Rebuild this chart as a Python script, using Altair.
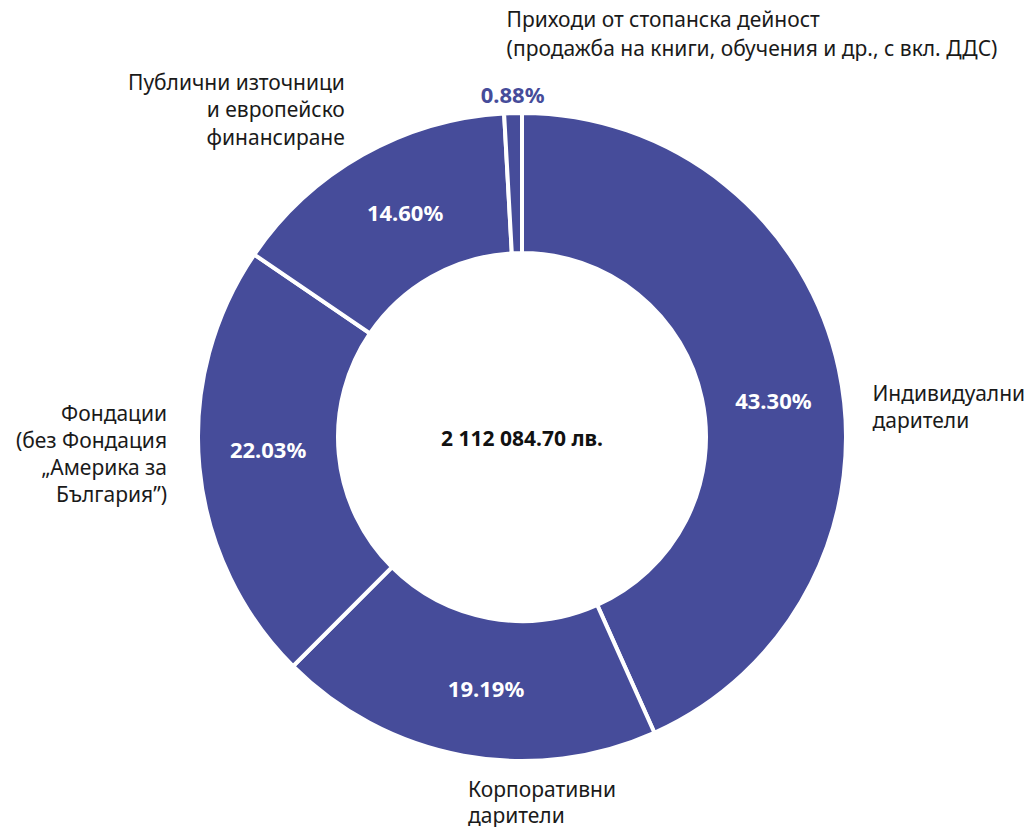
import altair as alt
import pandas as pd

# ---- data ----
idx = [0, 1, 2, 3, 4]
categories = [
    "Индивидуални дарители",
    "Корпоративни дарители",
    "Фондации (без Фондация „Америка за България”)",
    "Публични източници и европейско финансиране",
    "Приходи от стопанска дейност (продажба на книги, обучения и др., с вкл. ДДС)",
]
label_lines = [
    ["Индивидуални", "дарители"],
    ["Корпоративни", "дарители"],
    ["Фондации", "(без Фондация", "„Америка за", "България”)"],
    ["Публични източници", "и европейско", "финансиране"],
    ["Приходи от стопанска дейност", "(продажба на книги, обучения и др., с вкл. ДДС)"],
]
shares = [43.30, 19.19, 22.03, 14.60, 0.88]
pct_labels = ["43.30%", "19.19%", "22.03%", "14.60%", "0.88%"]
total_label = "2 112 084.70 лв."

df = pd.DataFrame({
    "idx": idx,
    "cat": categories,
    "lines": ["\n".join(l) for l in label_lines],
    "share": shares,
    "pct": pct_labels,
})

PURPLE = "#464C9A"
FONT = "Noto Sans"
theta_scale = alt.Scale(domain=[0, 100])

base = (
    alt.Chart(df)
    .transform_window(cum="sum(share)", sort=[alt.SortField("idx")], frame=[None, 0])
    .transform_calculate(start="datum.cum - datum.share", mid="datum.cum - datum.share / 2")
)

arcs = base.mark_arc(
    outerRadius=324, innerRadius=184, stroke="white", strokeWidth=4, color=PURPLE
).encode(
    theta=alt.Theta("start:Q", scale=theta_scale),
    theta2="cum:Q",
    tooltip=["cat:N", "pct:N"],
)


def label_layer(i, field, radius, align, dx, dy, size, weight, color, line_height=27):
    return base.transform_filter(alt.datum.idx == i).mark_text(
        radius=radius, align=align, baseline="middle", dx=dx, dy=dy,
        fontSize=size, fontWeight=weight, color=color, font=FONT,
        lineBreak="\n", lineHeight=line_height,
    ).encode(
        theta=alt.Theta("mid:Q", scale=theta_scale),
        text=alt.Text(f"{field}:N"),
    )


pct_layers = [
    label_layer(0, "pct", 254, "center", 3, 18, 22, "bold", "white"),
    label_layer(1, "pct", 254, "center", 10, 3, 22, "bold", "white"),
    label_layer(2, "pct", 254, "center", -1, -10, 22, "bold", "white"),
    label_layer(3, "pct", 254, "center", 8, -2, 22, "bold", "white"),
    label_layer(4, "pct", 340, "center", 0, -1, 22, "bold", PURPLE),
]

INK = "#1a1a1a"
cat_layers = [
    label_layer(0, "lines", 340, "left", 18, 29, 21, "normal", INK, 27),
    label_layer(1, "lines", 340, "left", 7.5, 20, 21, "normal", INK, 26),
    label_layer(2, "lines", 340, "right", -16.5, -54, 21, "normal", INK, 27),
    label_layer(3, "lines", 340, "right", -10, -57, 21, "normal", INK, 27.5),
    label_layer(4, "lines", 340, "left", -6, -76, 21, "normal", INK, 29),
]

center = alt.Chart(pd.DataFrame({"t": [total_label]})).mark_text(
    fontSize=21, fontWeight="bold", color="#111111", font=FONT, baseline="middle", align="center", dy=3
).encode(text="t:N")

chart = alt.layer(arcs, *pct_layers, *cat_layers, center).properties(
    width=1000,
    height=760,
    autosize=alt.AutoSizeParams(type="none"),
    padding={"left": 14, "top": 49, "right": 2, "bottom": 10},
).configure_view(stroke=None)

chart.save("out.html", embed_options={"renderer": "svg", "actions": False})
